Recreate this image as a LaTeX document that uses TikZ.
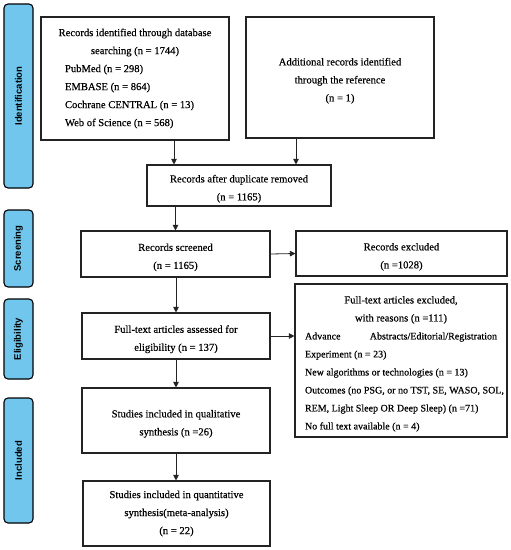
\documentclass[tikz,border=0pt]{standalone}
\usepackage{fontspec}
\setmainfont{Liberation Serif}
\newfontfamily\boxfont{Liberation Serif}[FakeBold=0.5]
\newfontfamily\tabfont{Liberation Sans}
\usetikzlibrary{arrows.meta}
\definecolor{tabblue}{RGB}{112,198,236}
\definecolor{edge}{RGB}{35,35,35}
\newcommand{\smalltxt}{\fontsize{10}{18}\selectfont}
\newcommand{\fl}{\rule{0pt}{14pt}}
\begin{document}
\begin{tikzpicture}[x=1pt,y=-1pt,
  box/.style={draw=edge, line width=1.1pt, inner sep=0pt, align=center,
    font=\boxfont\fontsize{10.6}{18}\selectfont},
  tab/.style={draw=black, fill=tabblue, line width=1.1pt, rounded corners=4pt,
    minimum width=29pt, inner sep=0pt, font=\tabfont\bfseries\fontsize{9.5}{11}\selectfont},
  arr/.style={draw=edge, line width=0.8pt, -{Triangle[length=5.5pt,width=5.5pt]}}]
\useasboundingbox (0,0) rectangle (511,550);
% phase tabs
\node[tab, minimum height=184pt] (tid) at (18.5,96) {\rotatebox{90}{Identification}};
\node[tab, minimum height=77pt] (tsc) at (18.5,248.5) {\rotatebox{90}{Screening}};
\node[tab, minimum height=80pt] (tel) at (18.5,339) {\rotatebox{90}{Eligibility}};
\node[tab, minimum height=125pt] (tin) at (18.5,460.5) {\rotatebox{90}{Included}};
% boxes
\node[box, minimum width=188pt, minimum height=123pt] (db) at (135,78.5)
  {Records identified through database\\ searching (n = 1744)\\
   \makebox[140pt][l]{PubMed (n = 298)}\\
   \makebox[140pt][l]{EMBASE (n = 864)}\\
   \makebox[140pt][l]{Cochrane CENTRAL (n = 13)}\\
   \makebox[140pt][l]{Web of Science (n = 568)}};
\node[box, minimum width=188pt, minimum height=121pt] (add) at (340,77.5)
  {\fl Additional records identified\\ through the reference\\ (n = 1)};
\node[box, minimum width=184pt, minimum height=41pt] (dup) at (239,185.5)
  {\fl Records after duplicate removed\\ (n = 1165)};
\node[box, minimum width=189pt, minimum height=46pt] (scr) at (175.5,254)
  {\fl Records screened\\ (n = 1165)};
\node[box, minimum width=211pt, minimum height=45pt] (exc) at (401.5,253.5)
  {\fl Records excluded\\ (n =1028)};
\node[box, minimum width=188pt, minimum height=46pt] (ass) at (176,336)
  {\fl Full-text articles assessed for\\ eligibility (n = 137)};
\node[box, minimum width=212pt, minimum height=153pt] (ftx) at (401,360.5)
  {\fl Full-text articles excluded,\\ with reasons (n =111)\\
   \makebox[192pt][s]{\smalltxt Advance\hfill Abstracts/Editorial/Registration}\\
   \makebox[192pt][l]{\smalltxt Experiment (n = 23)}\\
   \makebox[192pt][l]{\smalltxt New algorithms or technologies (n = 13)}\\
   \makebox[192pt][l]{\smalltxt Outcomes (no PSG, or no TST, SE, WASO, SOL,}\\
   \makebox[192pt][l]{\smalltxt REM, Light Sleep OR Deep Sleep) (n =71)}\\
   \makebox[192pt][l]{\smalltxt No full text available (n = 4)}};
\node[box, minimum width=188pt, minimum height=65pt] (qual) at (176,420.5)
  {\fl Studies included in qualitative\\ synthesis (n =26)};
\node[box, minimum width=187pt, minimum height=65pt] (quan) at (176.5,513.5)
  {Studies included in quantitative\\ synthesis(meta-analysis)\\ (n = 22)};
% connectors
\draw[arr] ([xshift=39pt]db.south) -- ([xshift=39pt]db.south |- dup.north);
\draw[arr] ([xshift=-44pt]add.south) -- ([xshift=-44pt]add.south |- dup.north);
\draw[arr] (dup.south -| scr.north) -- (scr.north);
\draw[arr] (scr.east) -- (exc.west);
\draw[arr] (scr.south -| ass.north) -- (ass.north);
\draw[arr] (ass.east) -- (ass.east -| ftx.west);
\draw[arr] (ass.south) -- (qual.north);
\draw[arr] (qual.south) -- (qual.south |- quan.north);
\end{tikzpicture}
\end{document}
